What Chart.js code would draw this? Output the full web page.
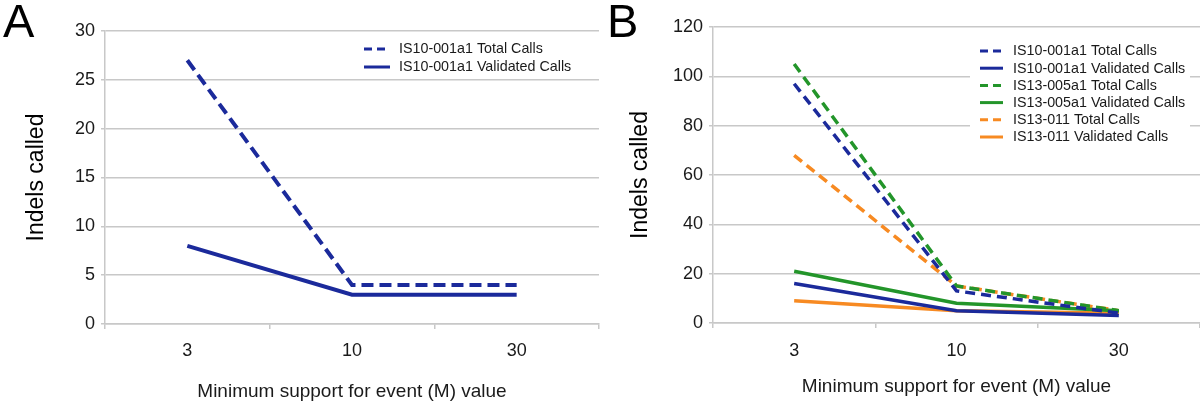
<!DOCTYPE html>
<html>
<head>
<meta charset="utf-8">
<script src="https://cdn.jsdelivr.net/npm/chart.js@4.4.1/dist/chart.umd.min.js"></script>
<style>
  html, body { margin: 0; padding: 0; background: #fff; }
  #wrap { position: relative; width: 1200px; height: 403px; overflow: hidden; font-family: "Liberation Sans", Arial, sans-serif; }
  .panel { position: absolute; top: 0; width: 600px; height: 403px; }
  .letter { position: absolute; font-size: 47px; line-height: 47px; color: #000; }
</style>
</head>
<body>
<div id="wrap">
  <div class="panel" style="left:0"><canvas id="cA" width="600" height="403"></canvas></div>
  <div class="panel" style="left:600px"><canvas id="cB" width="600" height="403"></canvas></div>
  <div class="letter" style="left:3px; top:-3px">A</div>
  <div class="letter" style="left:607px; top:-3px">B</div>
</div>
<script>
// ---- data ----
const categories = ["3", "10", "30"];

const panelA_labels = ["IS10-001a1 Total Calls", "IS10-001a1 Validated Calls"];
const A_IS10_total = [27, 4, 4];
const A_IS10_validated = [8, 3, 3];

const panelB_labels = [
  "IS10-001a1 Total Calls", "IS10-001a1 Validated Calls",
  "IS13-005a1 Total Calls", "IS13-005a1 Validated Calls",
  "IS13-011 Total Calls", "IS13-011 Validated Calls"
];
const B_IS10_total = [97, 13, 4];
const B_IS10_validated = [16, 5, 3];
const B_IS13_005_total = [105, 15, 5];
const B_IS13_005_validated = [21, 8, 5];
const B_IS13_011_total = [68, 15, 5];
const B_IS13_011_validated = [9, 5, 4];

const yTitle = "Indels called";
const xTitle = "Minimum support for event (M) value";

// ---- styles ----
const BLUE = "#1b2a9b";
const GREEN = "#23952a";
const ORANGE = "#f78a22";
const GRID = "#c8c8c8";
const FONT = "'Liberation Sans', Arial, sans-serif";

function ds(label, data, color, dashed, width, dash) {
  return {
    label, data, borderColor: color, backgroundColor: color,
    borderWidth: width, borderDash: dashed ? dash : [],
    pointRadius: 0, pointHoverRadius: 0, tension: 0, fill: false,
    _dashed: dashed
  };
}

function legendPlugin(cfg) {
  return {
    id: "inlegend",
    afterDatasetsDraw(chart) {
      const ctx = chart.ctx;
      ctx.save();
      if (cfg.box) {
        ctx.fillStyle = "#fff";
        ctx.fillRect(cfg.box[0], cfg.box[1], cfg.box[2], cfg.box[3]);
      }
      ctx.font = cfg.fontSize + "px " + FONT;
      ctx.textBaseline = "middle";
      ctx.textAlign = "left";
      chart.data.datasets.forEach((d, i) => {
        const y = cfg.y0 + i * cfg.dy;
        ctx.beginPath();
        ctx.strokeStyle = d.borderColor;
        ctx.lineWidth = cfg.lw;
        ctx.setLineDash(d._dashed ? cfg.dash : []);
        ctx.moveTo(cfg.x0, y);
        ctx.lineTo(cfg.x1, y);
        ctx.stroke();
        ctx.setLineDash([]);
        ctx.fillStyle = "#1a1a1a";
        ctx.fillText(d.label, cfg.tx, y + 0.5);
      });
      ctx.restore();
    }
  };
}

function makeOptions(p) {
  return {
    responsive: false,
    animation: false,
    events: [],
    layout: { padding: { top: p.top, right: p.right, left: 0, bottom: 0 } },
    plugins: { legend: { display: false }, tooltip: { enabled: false } },
    scales: {
      x: {
        type: "category",
        offset: true,
        grid: { offset: true, drawOnChartArea: false, color: GRID, lineWidth: 1.5, tickLength: 5 },
        border: { display: true, color: GRID, width: 1.5 },
        ticks: { color: "#1a1a1a", font: { family: FONT, size: 18 }, padding: p.xTickPad, maxRotation: 0 },
        title: { display: true, text: xTitle, color: "#1a1a1a", font: { family: FONT, size: 19 }, padding: { top: 0, bottom: p.xTitlePad } },
        afterFit(s) { s.height = p.xHeight; }
      },
      y: {
        min: 0, max: p.ymax,
        grid: { color: GRID, lineWidth: 1.5, tickLength: 4 },
        border: { display: true, color: GRID, width: 1.5 },
        ticks: { stepSize: p.step, color: "#1a1a1a", font: { family: FONT, size: 18 }, padding: 6 },
        title: { display: true, text: yTitle, color: "#000", font: { family: FONT, size: 23 }, padding: { top: p.yTitlePad, bottom: 0 } },
        afterFit(s) { s.width = p.yWidth; }
      }
    }
  };
}

new Chart(document.getElementById("cA"), {
  type: "line",
  data: {
    labels: categories,
    datasets: [
      ds(panelA_labels[0], A_IS10_total, BLUE, true, 4, [12, 6]),
      ds(panelA_labels[1], A_IS10_validated, BLUE, false, 4, [])
    ]
  },
  options: makeOptions({ top: 31, right: 1, ymax: 30, step: 5, yWidth: 105, xHeight: 79, xTickPad: 11, xTitlePad: 0, yTitlePad: 23 }),
  plugins: [legendPlugin({ x0: 364, x1: 390, tx: 399, y0: 49, dy: 18, lw: 3, dash: [8, 5], fontSize: 14.3 })]
});

new Chart(document.getElementById("cB"), {
  type: "line",
  data: {
    labels: categories,
    datasets: [
      ds(panelB_labels[0], B_IS10_total, BLUE, true, 3.5, [10, 6]),
      ds(panelB_labels[1], B_IS10_validated, BLUE, false, 3.5, []),
      ds(panelB_labels[2], B_IS13_005_total, GREEN, true, 3.5, [10, 6]),
      ds(panelB_labels[3], B_IS13_005_validated, GREEN, false, 3.5, []),
      ds(panelB_labels[4], B_IS13_011_total, ORANGE, true, 3.5, [10, 6]),
      ds(panelB_labels[5], B_IS13_011_validated, ORANGE, false, 3.5, [])
    ]
  },
  options: makeOptions({ top: 27, right: 0, ymax: 120, step: 20, yWidth: 113, xHeight: 80, xTickPad: 12, xTitlePad: 5, yTitlePad: 27 }),
  plugins: [legendPlugin({ box: [370, 40, 220, 108], x0: 380, x1: 403, tx: 413, y0: 51, dy: 17.2, lw: 3, dash: [8, 5], fontSize: 14.3 })]
});
</script>
</body>
</html>
